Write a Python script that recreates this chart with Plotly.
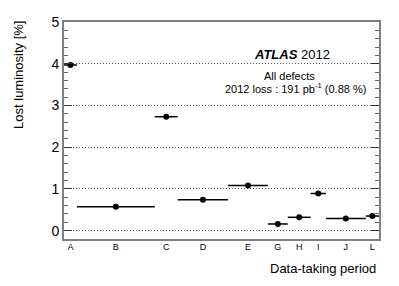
import plotly.graph_objects as go
import numpy as np

# Data
periods = ["A", "B", "C", "D", "E", "G", "H", "I", "J", "L"]
period_lumi = [0.84, 5.1, 1.5, 3.3, 2.6, 1.3, 1.5, 1.0, 2.6, 0.87]  # fb^-1 (bin widths)
lost_lumi = [3.97, 0.57, 2.73, 0.74, 1.08, 0.16, 0.32, 0.89, 0.29, 0.35]  # %
y_ticks = [0, 1, 2, 3, 4, 5]

edges = np.concatenate([[0], np.cumsum(period_lumi)])
centers = (edges[:-1] + edges[1:]) / 2
halfw = np.array(period_lumi) / 2

FONT = "Liberation Sans, Arial, Helvetica, sans-serif"

fig = go.Figure()
fig.add_trace(go.Scatter(
    x=centers, y=lost_lumi, mode="markers",
    marker=dict(color="black", size=6),
    error_x=dict(type="data", array=halfw, symmetric=True, width=0,
                 color="black", thickness=1.5),
    showlegend=False,
))

# page has an 8px body margin; plot area wanted at page x 64-379, y 14-239.5
OFF = 8
W, H = 399 - OFF, 286 - OFF
PL, PR, PT, PB = 64, 379, 14, 239.5
L, T = PL - OFF, PT - OFF
R = W - (PR - OFF)
B = H - (PB - OFF)
pw, ph = PR - PL, PB - PT

def px(x):
    return (x - PL) / pw

def py(y):
    return (PB - y) / ph

fig.update_layout(
    width=W, height=H,
    margin=dict(l=L, r=R, t=T, b=B, pad=0),
    paper_bgcolor="white", plot_bgcolor="white",
    font=dict(family=FONT, color="black"),
    xaxis=dict(
        range=[0, edges[-1]],
        tickmode="array", tickvals=centers, ticktext=periods,
        ticks="", tickfont=dict(size=9, family=FONT, color="black"),
        showgrid=False, zeroline=False,
        showline=True, mirror=True, linecolor="#808080", linewidth=2,
        ticklabelstandoff=-2, ticklabeloverflow="allow",
    ),
    yaxis=dict(
        range=[-0.2, 5],
        tickmode="array", tickvals=y_ticks,
        ticks="inside", ticklen=8, tickcolor="#333333", tickwidth=1,
        tickfont=dict(size=14, family=FONT, color="black"),
        ticklabelstandoff=0, ticklabeloverflow="allow",
        minor=dict(dtick=0.2, tick0=0, ticks="inside", ticklen=4,
                   tickcolor="#666666", tickwidth=1, showgrid=False),
        showgrid=True, gridcolor="#555555", gridwidth=1, griddash="1px,2px",
        zeroline=False,
        showline=True, mirror="allticks", linecolor="#808080", linewidth=2,
    ),
    annotations=[
        dict(text="Lost luminosity [%]", textangle=-90, xref="paper", yref="paper",
             x=px(19), y=py(69), xanchor="center", yanchor="middle",
             showarrow=False, font=dict(size=13, family=FONT)),
        dict(text="Data-taking period", xref="paper", yref="paper",
             x=px(378), y=py(270), xanchor="right", yanchor="middle",
             showarrow=False, font=dict(size=13, family=FONT)),
        dict(text="<b><i>ATLAS</i></b> 2012", xref="paper", yref="paper",
             x=px(292), y=py(48), xanchor="center", yanchor="middle",
             showarrow=False, font=dict(size=13, family=FONT)),
        dict(text="All defects", xref="paper", yref="paper",
             x=px(289), y=py(70), xanchor="center", yanchor="middle",
             showarrow=False, font=dict(size=11, family=FONT)),
        dict(text="2012 loss : 191 pb<sup>-1</sup> (0.88 %)", xref="paper", yref="paper",
             x=px(295), y=py(83), xanchor="center", yanchor="middle",
             showarrow=False, font=dict(size=11, family=FONT)),
    ],
)

fig.write_html("out.html")
